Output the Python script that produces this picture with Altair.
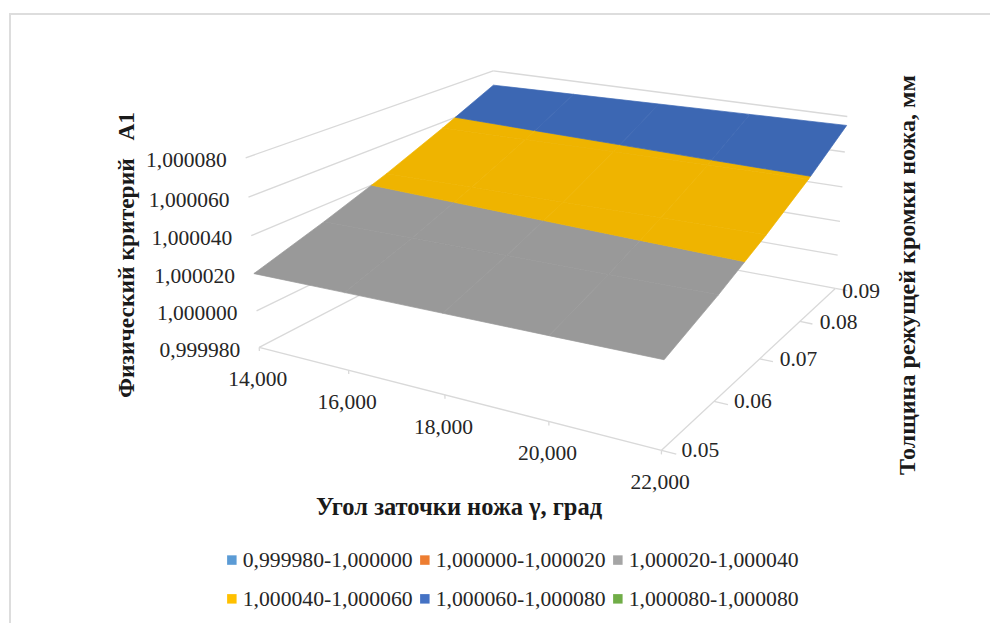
import numpy as np
import pandas as pd
import altair as alt

W, H = 990, 623
GAMMA = [14, 16, 18, 20, 22]
THICK = [0.05, 0.06, 0.07, 0.08, 0.09]
LEVELS = [0.99998, 1.00000, 1.00002, 1.00004, 1.00006, 1.00008]
Z = [
    [1.0000200, 1.0000208, 1.0000215, 1.0000222, 1.0000230],
    [1.0000310, 1.0000317, 1.0000323, 1.0000329, 1.0000335],
    [1.0000430, 1.0000437, 1.0000443, 1.0000450, 1.0000456],
    [1.0000565, 1.0000572, 1.0000579, 1.0000586, 1.0000592],
    [1.0000710, 1.0000720, 1.0000730, 1.0000740, 1.0000750],
]
Z_LABELS = ["0,999980", "1,000000", "1,000020", "1,000040", "1,000060", "1,000080"]
GAMMA_LABELS = ["14,000", "16,000", "18,000", "20,000", "22,000"]
THICK_LABELS = ["0.05", "0.06", "0.07", "0.08", "0.09"]
SERIES = ["0,999980-1,000000", "1,000000-1,000020", "1,000020-1,000040",
          "1,000040-1,000060", "1,000060-1,000080", "1,000080-1,000080"]
LEGEND_COLORS = ["#5B9BD5", "#ED7D31", "#A5A5A5", "#FFC000", "#4472C4", "#70AD47"]
SURFACE_COLORS = {2: "#999999", 3: "#EFB400", 4: "#3C67B3"}

# Perspective camera of the 3-D box, acting on unit-cube coordinates.
CAMERA = np.array([
    [308.015215, 362.694236, -24.435240, 259.153877],
    [38.695350, -65.010480, -196.546440, 347.349398],
    [-0.142622, 0.255774, -0.044534, 1.000000],
])


def project(g, t, z):
    q = CAMERA @ np.array([(g - 14) / 8, (t - .05) / .04, (z - .99998) / .0001, 1.0])
    return q[0] / q[2], q[1] / q[2]


def clip(poly, lo, hi):
    """Keep the part of a surface cell lying inside one contour band."""
    def cut(pts, keep, level):
        out = []
        for i in range(len(pts)):
            a, c = pts[i], pts[(i + 1) % len(pts)]
            if keep(a[2]):
                out.append(a)
            if keep(a[2]) != keep(c[2]):
                f = (level - a[2]) / (c[2] - a[2])
                out.append(tuple(a[k] + f * (c[k] - a[k]) for k in range(3)))
        return out
    r = cut(poly, lambda z: z >= lo, lo)
    return cut(r, lambda z: z <= hi, hi) if r else r


rows = []
pid = 0
for j in range(4):
    for i in range(4):
        cell = [(GAMMA[i], THICK[j], Z[j][i]), (GAMMA[i + 1], THICK[j], Z[j][i + 1]),
                (GAMMA[i + 1], THICK[j + 1], Z[j + 1][i + 1]), (GAMMA[i], THICK[j + 1], Z[j + 1][i])]
        for band, col in SURFACE_COLORS.items():
            poly = clip(cell, LEVELS[band], LEVELS[band + 1])
            if len(poly) >= 3:
                pid += 1
                for k, pt in enumerate(poly + poly[:1]):
                    x, y = project(*pt)
                    rows.append(dict(x=x, y=y, k=k, poly=pid, col=col))
surface = pd.DataFrame(rows)

segs = []


def seg(a, c):
    n = len(segs) // 2
    for k, pt in enumerate((a, c)):
        x, y = project(*pt)
        segs.append(dict(x=x, y=y, k=k, s=n))


z0 = LEVELS[0]
for z in LEVELS:
    seg((14, .05, z), (14, .09, z))
    seg((14, .09, z), (22, .09, z))
seg((14, .05, z0), (22, .05, z0))
seg((22, .05, z0), (22, .09, z0))
# Short tick marks along the two floor axes
for g in GAMMA:
    seg((g, .05, z0), (g, .05, z0 - 0.000002))
for t in THICK:
    seg((22, t, z0), (22.25, t, z0))
grid = pd.DataFrame(segs)

xs = alt.X("x:Q", scale=alt.Scale(domain=[0, W]), axis=None)
ys = alt.Y("y:Q", scale=alt.Scale(domain=[H, 0]), axis=None)
FONT = "Liberation Serif"
TEXT = "#262626"

grid_layer = alt.Chart(grid).mark_line(color="#D9D9D9", strokeWidth=1.3).encode(
    xs, ys, detail="s:N", order="k:Q")
surf_layer = alt.Chart(surface).mark_line(filled=True, strokeWidth=0.7).encode(
    xs, ys, detail="poly:N", order="k:Q",
    fill=alt.Fill("col:N", scale=None), stroke=alt.Stroke("col:N", scale=None))

right_ticks = []
for z, s in zip(LEVELS, Z_LABELS):
    x, y = project(14, .05, z)
    right_ticks.append(dict(x=x - 19, y=y + 3.5, t=s))
left_ticks = []
for g, s in zip(GAMMA, GAMMA_LABELS):
    x, y = project(g, .05, z0)
    left_ticks.append(dict(x=x - 31, y=y + 33, t=s))
for t, s, dx, dy in zip(THICK, THICK_LABELS, [20, 20, 20, 20, 7], [1, 1, 1, 2, 4]):
    x, y = project(22, t, z0)
    left_ticks.append(dict(x=x + dx, y=y + dy, t=s))
tick_l = alt.Chart(pd.DataFrame(left_ticks)).mark_text(
    font=FONT, fontSize=21.5, align="left", color=TEXT).encode(xs, ys, text="t:N")
tick_r = alt.Chart(pd.DataFrame(right_ticks)).mark_text(
    font=FONT, fontSize=21.5, align="right", color=TEXT).encode(xs, ys, text="t:N")


def title(text, x, y, angle, size=24.5):
    return alt.Chart(pd.DataFrame(dict(x=[x], y=[y], t=[text]))).mark_text(
        font=FONT, fontSize=size, fontWeight="bold", angle=angle, color="#1a1a1a"
    ).encode(xs, ys, text="t:N")


t1 = title("Угол заточки ножа γ, град", 459, 508, 0)
t2 = title("Физический критерий\u00a0\u00a0\u00a0A1", 127, 255, 270, 23.5)
t3 = title("Толщина режущей кромки ножа, мм", 908, 275, 270, 24.1)

frame = alt.Chart(pd.DataFrame(dict(x=[10, 10, W], y=[H, 14, 14], k=[0, 1, 2]))).mark_line(
    color="#DDDDDD", strokeWidth=2).encode(xs, ys, order="k:Q")

legend = alt.Chart(pd.DataFrame(dict(series=SERIES, x=[0.0] * 6, y=[0.0] * 6))).mark_square(opacity=0).encode(
    xs, ys,
    color=alt.Color("series:N", scale=alt.Scale(domain=SERIES, range=LEGEND_COLORS),
                    legend=alt.Legend(orient="none", legendX=221, legendY=549, columns=3, title=None,
                                      direction="horizontal", symbolType="square", symbolSize=90,
                                      symbolOpacity=1, symbolStrokeWidth=0, labelFont=FONT,
                                      labelFontSize=21.7, labelOffset=0, labelColor=TEXT,
                                      columnPadding=1, rowPadding=16, labelLimit=300)))

chart = alt.layer(frame, grid_layer, surf_layer, tick_l, tick_r, t1, t2, t3, legend).resolve_scale(
    color="independent"
).properties(
    width=W, height=H, padding=0, autosize=alt.AutoSizeParams(type="none"),
).configure_view(stroke=None)
chart.save("out.html", embed_options={"renderer": "svg", "actions": False})
